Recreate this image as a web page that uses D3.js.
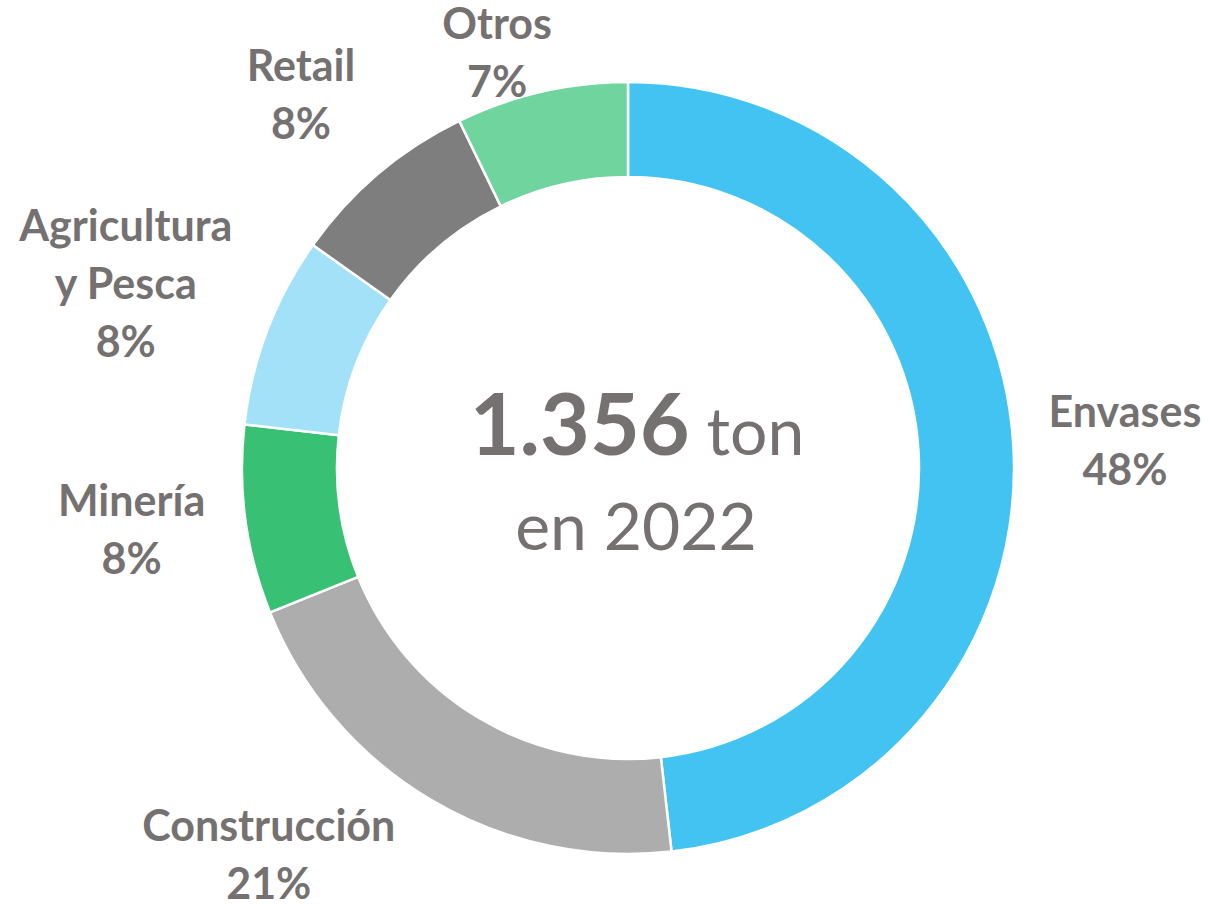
<!DOCTYPE html>
<head>
<style>
body { margin: 0; background: #fff; }
.lbl { font-family: Lato, sans-serif; font-weight: bold; fill: #767171; }
.center { font-family: Lato, sans-serif; fill: #767171; }
</style>
<script src="https://d3js.org/d3.v7.min.js"></script>
</head>
<body>
<svg width="1209" height="904"></svg>
<script>
var sectors = ["Envases", "Construcción", "Minería", "Agricultura y Pesca", "Retail", "Otros"];
var shares = [48.2, 20.7, 7.9, 8.0, 8.0, 7.2];
var colors = ["#42c3f1", "#aeadad", "#38c174", "#a3e1f9", "#7f7e7e", "#70d49f"];
// label lines (names broken like in the original)
var labelLines = [["Envases"], ["Construcción"], ["Minería"], ["Agricultura", "y Pesca"], ["Retail"], ["Otros"]];
// manual nudge of each label from its slice centroid
var labelNudge = [[159, -22], [-186, 82], [-161, 2], [-186, -106], [-108, -129], [-55, -99]];
var totalTon = "1.356", unit = "ton", year = "en 2022";

var svg = d3.select("svg"),
    cx = 628, cy = 468,
    outer = 386, inner = 291,
    g = svg.append("g").attr("transform", "translate(" + cx + "," + cy + ")");

var data = sectors.map(function(s, i) { return {name: s, value: shares[i], i: i}; });

var pie = d3.pie()
    .sort(null)
    .value(function(d) { return d.value; });

var arc = d3.arc()
    .innerRadius(inner)
    .outerRadius(outer);

var arcs = pie(data);

g.selectAll("path")
  .data(arcs)
  .enter().append("path")
    .attr("d", arc)
    .attr("fill", function(d) { return colors[d.data.i]; })
    .attr("stroke", "#fff")
    .attr("stroke-width", 2.5);

var lineH = 58;
var labels = g.selectAll("text.lbl")
  .data(arcs)
  .enter().append("text")
    .attr("class", "lbl")
    .attr("font-size", 43)
    .attr("text-anchor", "middle")
    .attr("transform", function(d) {
      var c = arc.centroid(d), n = labelNudge[d.data.i];
      return "translate(" + (c[0] + n[0]) + "," + (c[1] + n[1]) + ")";
    });

labels.each(function(d) {
  var t = d3.select(this),
      lines = labelLines[d.data.i].concat([Math.round(d.value) + "%"]);
  lines.forEach(function(l, k) {
    t.append("tspan").attr("x", 0).attr("y", k * lineH).text(l);
  });
});

var c1 = g.append("text")
    .attr("class", "center")
    .attr("text-anchor", "middle")
    .attr("x", 9)
    .attr("y", -13);
c1.append("tspan").attr("font-weight", "bold").attr("font-size", 86).text(totalTon);
c1.append("tspan").attr("font-size", 66).text(" " + unit);

g.append("text")
    .attr("class", "center")
    .attr("text-anchor", "middle")
    .attr("x", 8)
    .attr("y", 82)
    .attr("font-size", 66)
    .text(year);
</script>
</body>
